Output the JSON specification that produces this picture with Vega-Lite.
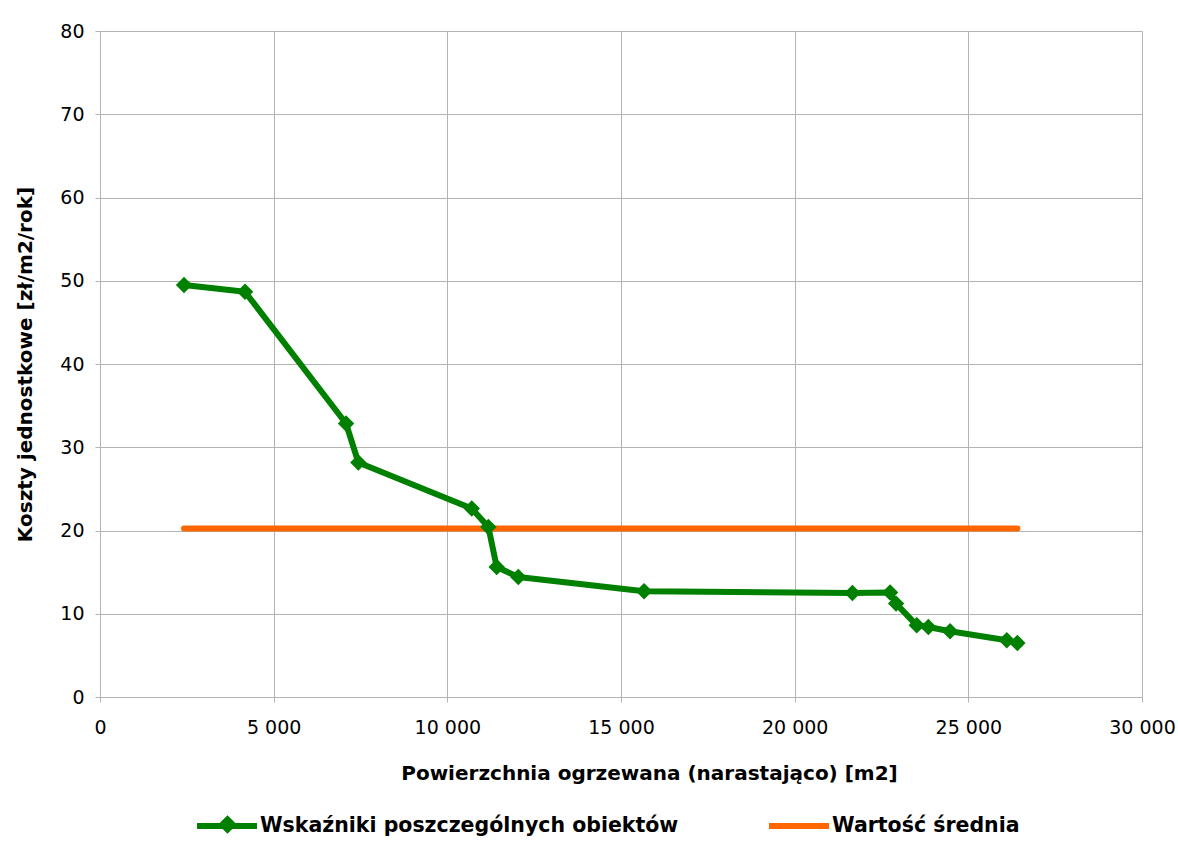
{
  "$schema": "https://vega.github.io/schema/vega-lite/v6.json",
  "autosize": {"type": "none"},
  "width": 1042,
  "height": 666,
  "padding": {"left": 100, "top": 31, "right": 36, "bottom": 166},
  "background": "white",
  "config": {
    "font": "DejaVu Sans",
    "view": {"stroke": null},
    "axis": {
      "gridColor": "#b3b3b3",
      "domainColor": "#b3b3b3",
      "tickColor": "#b3b3b3",
      "tickSize": 5,
      "labelFont": "DejaVu Sans",
      "labelFontSize": 19,
      "labelColor": "#000000",
      "labelFlush": false,
      "titleFont": "DejaVu Sans",
      "titleFontSize": 20,
      "titleFontWeight": "bold",
      "titleColor": "#000000"
    },
    "legend": {
      "labelFont": "DejaVu Sans",
      "labelFontSize": 20.5,
      "labelFontWeight": "bold",
      "labelColor": "#000000",
      "labelLimit": 1000,
      "padding": 0
    }
  },
  "data": {
    "values": [
      {"pow": 2419, "koszt": 49.48, "seria": "Wskaźniki poszczególnych obiektów"},
      {"pow": 4175, "koszt": 48.67, "seria": "Wskaźniki poszczególnych obiektów"},
      {"pow": 7083, "koszt": 32.85, "seria": "Wskaźniki poszczególnych obiektów"},
      {"pow": 7438, "koszt": 28.17, "seria": "Wskaźniki poszczególnych obiektów"},
      {"pow": 10703, "koszt": 22.64, "seria": "Wskaźniki poszczególnych obiektów"},
      {"pow": 11181, "koszt": 20.43, "seria": "Wskaźniki poszczególnych obiektów"},
      {"pow": 11421, "koszt": 15.62, "seria": "Wskaźniki poszczególnych obiektów"},
      {"pow": 12043, "koszt": 14.42, "seria": "Wskaźniki poszczególnych obiektów"},
      {"pow": 15664, "koszt": 12.7, "seria": "Wskaźniki poszczególnych obiektów"},
      {"pow": 21663, "koszt": 12.5, "seria": "Wskaźniki poszczególnych obiektów"},
      {"pow": 22748, "koszt": 12.55, "seria": "Wskaźniki poszczególnych obiektów"},
      {"pow": 22920, "koszt": 11.22, "seria": "Wskaźniki poszczególnych obiektów"},
      {"pow": 23515, "koszt": 8.61, "seria": "Wskaźniki poszczególnych obiektów"},
      {"pow": 23849, "koszt": 8.41, "seria": "Wskaźniki poszczególnych obiektów"},
      {"pow": 24474, "koszt": 7.89, "seria": "Wskaźniki poszczególnych obiektów"},
      {"pow": 26107, "koszt": 6.81, "seria": "Wskaźniki poszczególnych obiektów"},
      {"pow": 26412, "koszt": 6.49, "seria": "Wskaźniki poszczególnych obiektów"},
      {"pow": 2419, "koszt": 20.23, "seria": "Wartość średnia"},
      {"pow": 26412, "koszt": 20.23, "seria": "Wartość średnia"}
    ]
  },
  "encoding": {
    "x": {
      "field": "pow", "type": "quantitative",
      "scale": {"domain": [0, 30000], "nice": false, "zero": true},
      "axis": {
        "title": "Powierzchnia ogrzewana (narastająco) [m2]",
        "values": [0, 5000, 10000, 15000, 20000, 25000, 30000],
        "labelExpr": "replace(format(datum.value, ','), ',', ' ')",
        "labelPadding": 16,
        "titlePadding": 26,
        "titleX": 549,
        "grid": true
      }
    },
    "y": {
      "field": "koszt", "type": "quantitative",
      "scale": {"domain": [0, 80], "nice": false},
      "axis": {
        "title": "Koszty jednostkowe [zł/m2/rok]",
        "values": [0, 10, 20, 30, 40, 50, 60, 70, 80],
        "labelPadding": 11,
        "titlePadding": 24,
        "grid": true
      }
    }
  },
  "layer": [
    {
      "mark": {"type": "line", "strokeWidth": 6, "strokeCap": "round", "strokeJoin": "round"},
      "encoding": {
        "color": {
          "field": "seria", "type": "nominal",
          "scale": {"domain": ["Wskaźniki poszczególnych obiektów", "Wartość średnia"], "range": ["#008000", "#ff6600"]},
          "legend": {
            "title": null,
            "orient": "none",
            "direction": "horizontal",
            "legendX": 94,
            "legendY": 762,
            "symbolType": "stroke",
            "symbolSize": 3600,
            "symbolStrokeWidth": 6,
            "labelOffset": 0,
            "columnPadding": 78
          }
        },
        "order": {"field": "pow", "type": "quantitative"}
      }
    },
    {
      "transform": [{"filter": "datum.seria === 'Wskaźniki poszczególnych obiektów'"}],
      "mark": {"type": "point", "filled": true, "opacity": 1, "size": 270, "color": "#008000"},
      "encoding": {
        "shape": {
          "field": "seria", "type": "nominal",
          "scale": {"domain": ["Wskaźniki poszczególnych obiektów"], "range": ["diamond"]},
          "legend": {
            "title": null,
            "orient": "none",
            "legendX": 117,
            "legendY": 783,
            "symbolSize": 350,
            "symbolFillColor": "#008000",
            "symbolStrokeColor": "#008000",
            "symbolOpacity": 1,
            "labelExpr": "''"
          }
        }
      }
    }
  ]
}
